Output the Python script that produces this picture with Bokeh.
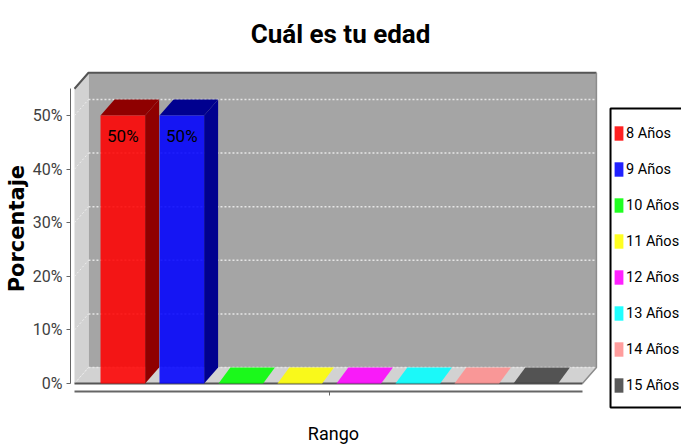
import math
from bokeh.plotting import figure
from bokeh.models import Legend, LegendItem, FixedTicker, Range1d
from bokeh.core.properties import value
from bokeh.embed import file_html
from bokeh.resources import INLINE

# data
categories = ["8 Años", "9 Años", "10 Años", "11 Años", "12 Años", "13 Años", "14 Años", "15 Años"]
percent = [50, 50, 0, 0, 0, 0, 0, 0]
colors = ["#ff0000", "#0000ff", "#00ff00", "#ffff00", "#ff00ff", "#00ffff", "#ff8f8f", "#404040"]
dark = ["#8f0000", "#00008f", "#008f00", "#8f8f00", "#8f008f", "#008f8f", "#8f5050", "#242424"]
y_ticks = [0, 10, 20, 30, 40, 50]

# 3D look, in data units
DX, DY = 0.237, 2.985
FLAT_DX = 0.2
BAR = 0.756
X0, X1 = -0.819, 7.79
TOP = 55
FONT = "Roboto"

p = figure(width=681, height=446, output_backend="svg", toolbar_location=None,
           x_range=Range1d(-2.073, 9.469), y_range=Range1d(-11.75, 71.46),
           min_border_left=0, min_border_right=0, min_border_top=0, min_border_bottom=0,
           outline_line_color=None, background_fill_color="white")
p.grid.visible = False

# walls and floor
p.quad(left=X0 + DX, right=X1 + DX, bottom=DY, top=TOP + DY, fill_color="#a5a5a5", line_color=None)
p.patch([X0, X0 + DX, X0 + DX, X0], [0, DY, TOP + DY, TOP], fill_color="#d2d2d2", line_color=None)
p.patch([X0, X0 + DX, X1 + DX, X1], [0, DY, DY, 0], fill_color="#d2d2d2", line_color=None)

# gridlines on the back and left walls
for t in y_ticks:
    p.line([X0 + DX, X1 + DX], [t + DY, t + DY], line_color="#e6e6e6", line_width=1.5, line_dash="2 2")
    p.line([X0, X0 + DX], [t, t + DY], line_color="#eeeeee", line_width=1, line_dash="2 2")

# frame edges
p.line([X0, X0 + DX, X1 + DX], [TOP, TOP + DY, TOP + DY], line_color="#555555", line_width=2)
p.line([X1 + DX, X1 + DX, X1], [TOP + DY, DY, 0], line_color="#8c8c8c", line_width=1.5)
p.line([X0, X1], [0, 0], line_color="#555555", line_width=2)

# bars
items = []
for i, (cat, v, c, d) in enumerate(zip(categories, percent, colors, dark)):
    l, r = i - BAR / 2, i + BAR / 2
    if v > 0:
        p.patch([r, r + DX, r + DX, r], [0, DY, v + DY, v], fill_color=d, line_color=None)
        p.patch([l, l + DX, r + DX, r], [v, v + DY, v + DY, v], fill_color=d, line_color=None)
    else:
        p.patch([l, l + FLAT_DX, r + FLAT_DX, r], [0, DY, DY, 0], fill_color=c, fill_alpha=0.87, line_color=None)
    q = p.quad(left=l, right=r, bottom=0, top=v, fill_color=c, fill_alpha=0.87, line_color=None)
    items.append(LegendItem(label=cat, renderers=[q]))
    if v > 0:
        p.text([i], [v - 3.9], text=[f"{v}%"], text_align="center", text_baseline="middle",
               text_font=value(FONT), text_font_size="17px", text_color="#000000")

# axes
ya = p.yaxis[0]
ya.fixed_location = -0.886
ya.ticker = FixedTicker(ticks=y_ticks)
ya.major_label_overrides = {t: f"{t}%" for t in y_ticks}
ya.bounds = (0, TOP)
ya.axis_line_color = "#666666"
ya.major_tick_line_color = "#666666"
ya.major_tick_out = 4
ya.major_tick_in = 0
ya.minor_tick_line_color = None
ya.major_label_standoff = 4
ya.major_label_text_font = FONT
ya.major_label_text_font_size = "16px"
ya.major_label_text_color = "#404040"

xa = p.xaxis[0]
xa.fixed_location = -1.49
xa.ticker = FixedTicker(ticks=[(len(categories) - 1) / 2])
xa.major_label_overrides = {(len(categories) - 1) / 2: ""}
xa.bounds = (X0, X1)
xa.axis_line_color = "#666666"
xa.axis_line_width = 2
xa.major_tick_line_color = "#666666"
xa.major_tick_out = 4
xa.major_tick_in = 0
xa.minor_tick_line_color = None

# titles
p.text([-1.785], [28.9], text=["Porcentaje"], angle=math.pi / 2, text_align="center", text_baseline="middle",
       text_font=value("DejaVu Sans"), text_font_style="bold", text_font_size="21px", text_color="#000000")
p.text([3.57], [-9.33], text=["Rango"], text_align="center", text_baseline="middle",
       text_font=value(FONT), text_font_size="18px", text_color="#000000")
p.text([3.69], [65.3], text=["Cuál es tu edad"], text_align="center", text_baseline="middle",
       text_font=value(FONT), text_font_style="bold", text_font_size="26px", text_color="#000000")

# legend box
p.quad(left=8.266, right=9.7, bottom=-4.48, top=51.3, fill_color="white",
       line_color="#000000", line_width=2)
legend = Legend(items=items, location=(613, 52), margin=0, padding=5,
                glyph_width=11, glyph_height=18, label_height=18, spacing=18,
                label_standoff=2, label_width=52,
                label_text_font=FONT, label_text_font_size="14.5px", label_text_color="#000000",
                border_line_color=None, background_fill_alpha=0.0)
p.add_layout(legend)

open("out.html", "w").write(file_html(p, INLINE))
